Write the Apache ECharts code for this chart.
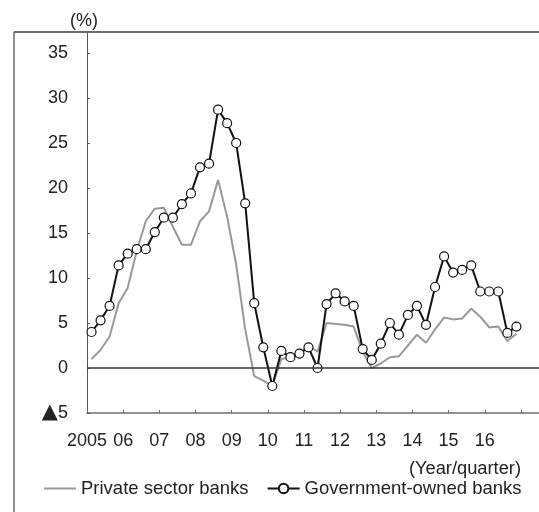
<!DOCTYPE html>
<html>
<head>
<meta charset="utf-8">
<script src="https://cdn.jsdelivr.net/npm/echarts@6/dist/echarts.min.js"></script>
<style>
html,body{margin:0;padding:0;background:#fff;}
#chart{width:539px;height:512px;}
</style>
</head>
<body>
<div id="chart"></div>
<script>
// Year tick labels (placed at the start of each year)
const yearLabels = ['2005','06','07','08','09','10','11','12','13','14','15','16'];
const firstYear = 2005;
// Quarterly values, 2005Q1 .. 2016Q4 (%)
const privateBanks = [
  1.0, 2.0, 3.5, 7.2, 8.9, 13.0, 16.3, 17.7,
  17.8, 15.7, 13.7, 13.7, 16.3, 17.4, 20.9, 16.8,
  11.5, 4.3, -0.9, -1.4, -2.0, 1.0, 1.2, 1.5,
  2.5, 1.8, 5.0, 4.9, 4.8, 4.6, 1.8, 0.0,
  0.5, 1.2, 1.3, 2.5, 3.7, 2.8, 4.3, 5.6,
  5.4, 5.5, 6.6, 5.7, 4.5, 4.6, 3.0, 3.8
];
const governmentBanks = [
  4.0, 5.3, 6.9, 11.4, 12.7, 13.2, 13.2, 15.1,
  16.7, 16.7, 18.2, 19.4, 22.3, 22.7, 28.7, 27.2,
  25.0, 18.3, 7.2, 2.3, -2.0, 1.9, 1.2, 1.6,
  2.3, 0.0, 7.1, 8.3, 7.4, 6.9, 2.1, 0.9,
  2.7, 5.0, 3.7, 5.9, 6.9, 4.8, 9.0, 12.4,
  10.6, 10.9, 11.4, 8.5, 8.5, 8.5, 3.9, 4.6
];
const seriesNames = ['Private sector banks', 'Government-owned banks'];

const toPoints = arr => arr.map((v, i) => [firstYear + (i + 0.5) / 4, v]);
const font = '"Liberation Sans", Arial, Helvetica, sans-serif';
const txt = '#222';

const chart = echarts.init(document.getElementById('chart'), null, {renderer: 'canvas'});
chart.setOption({
  backgroundColor: '#fff',
  animation: false,
  textStyle: {fontFamily: font, color: txt},
  grid: {left: 87, right: 0, top: 32, bottom: 99, containLabel: false},
  xAxis: {
    type: 'value',
    min: 2005, max: 2017.5, interval: 1,
    axisLine: {show: true, onZero: false, lineStyle: {color: '#707070', width: 1.5}},
    axisTick: {show: true, inside: true, length: 3, lineStyle: {color: '#707070', width: 1}},
    splitLine: {show: false},
    axisLabel: {
      showMaxLabel: false,
      margin: 19,
      fontSize: 18, color: txt, fontFamily: font,
      formatter: v => {
        const k = Math.round(v - firstYear);
        return (Math.abs(v - firstYear - k) < 1e-6 && yearLabels[k]) ? yearLabels[k] : '';
      }
    }
  },
  yAxis: {
    type: 'value',
    min: -5, max: 37.33, interval: 5,
    name: '(%)',
    nameLocation: 'end',
    nameGap: 2,
    nameTextStyle: {fontSize: 18, color: txt, fontFamily: font, align: 'center', padding: [0, 6, 0, 0]},
    axisLine: {show: true, onZero: false, lineStyle: {color: '#555', width: 1}},
    axisTick: {show: true, inside: true, length: 3, lineStyle: {color: '#555', width: 1}},
    splitLine: {show: false},
    axisLabel: {
      showMaxLabel: false,
      margin: 19,
      fontSize: 18, color: txt, fontFamily: font,
      formatter: v => v < 0 ? '{tri|\u25B2}' + Math.abs(v) : String(v),
      rich: {
        tri: {fontSize: 21, fontFamily: '"DejaVu Sans", sans-serif', color: txt, padding: [0, 0, 1, 0]}
      }
    }
  },
  legend: {
    left: 38, top: 474,
    itemWidth: 32, itemHeight: 12, itemGap: 18,
    textStyle: {fontSize: 18.5, color: txt, fontFamily: font},
    data: [
      {name: seriesNames[0], itemStyle: {opacity: 0}},
      {name: seriesNames[1]}
    ]
  },
  graphic: [
    {type: 'line', shape: {x1: 14, y1: 32, x2: 539, y2: 32}, style: {stroke: '#6b6b6b', lineWidth: 2}, z: 100},
    {type: 'line', shape: {x1: 14, y1: 32, x2: 14, y2: 512}, style: {stroke: '#6b6b6b', lineWidth: 1.5}, z: 100},
    {type: 'text', right: 18, top: 460, style: {text: '(Year/quarter)', fontSize: 18.3, fill: txt, fontFamily: font}}
  ],
  series: [
    {
      name: seriesNames[0],
      type: 'line',
      data: toPoints(privateBanks),
      symbol: 'none',
      lineStyle: {color: '#999', width: 2},
      itemStyle: {color: '#999'},
      z: 2,
      markLine: {
        silent: true, symbol: 'none', label: {show: false},
        lineStyle: {color: '#333', width: 1.5, type: 'solid'},
        data: [{yAxis: 0}]
      }
    },
    {
      name: seriesNames[1],
      type: 'line',
      data: toPoints(governmentBanks),
      symbol: 'circle',
      symbolSize: 9,
      showAllSymbol: true,
      lineStyle: {color: '#111', width: 2},
      itemStyle: {color: '#fff', borderColor: '#111', borderWidth: 1.2},
      z: 3
    }
  ]
});
</script>
</body>
</html>
